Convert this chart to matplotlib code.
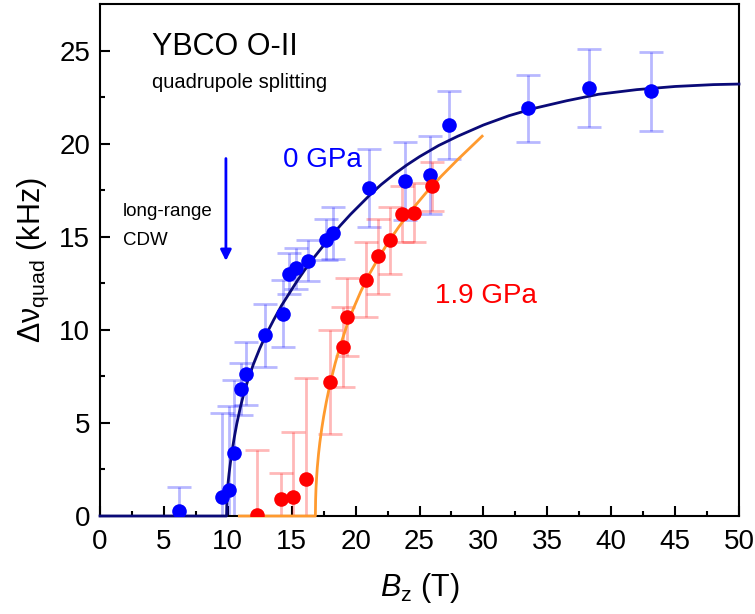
import matplotlib
matplotlib.use('Agg')
import matplotlib.pyplot as plt

plt.rcParams['font.family'] = ['Liberation Sans', 'DejaVu Sans']
plt.rcParams['mathtext.fontset'] = 'custom'
plt.rcParams['mathtext.rm'] = 'Liberation Sans'
plt.rcParams['mathtext.it'] = 'Liberation Sans:italic'

# 0 GPa data
b0_field = [6.2, 9.55, 10.1, 10.5, 11.0, 11.46, 12.9, 14.3, 14.75, 15.3, 16.3,
            17.7, 18.2, 21.05, 23.9, 25.8, 27.3, 33.5, 38.3, 43.1]
b0_split = [0.27, 1.04, 1.4, 3.4, 6.8, 7.65, 9.7, 10.87, 13.0, 13.3, 13.7,
            14.84, 15.2, 17.6, 18.0, 18.3, 21.0, 21.9, 23.0, 22.8]
b0_err = [1.3, 4.5, 4.5, 3.9, 1.4, 1.7, 1.7, 1.8, 1.1, 1.1, 1.1,
          1.1, 1.4, 2.1, 2.1, 2.1, 1.8, 1.8, 2.1, 2.1]

# 1.9 GPa data
p19_field = [12.3, 14.15, 15.1, 16.1, 18.0, 19.0, 19.35, 20.8, 21.75, 22.7, 23.6, 24.6, 26.0]
p19_split = [0.05, 0.91, 1.0, 2.0, 7.2, 9.1, 10.7, 12.7, 13.95, 14.8, 16.24, 16.3, 17.7]
p19_err = [3.5, 1.4, 3.5, 5.4, 2.8, 2.15, 2.1, 2.0, 2.0, 1.8, 1.5, 1.6, 1.3]

# fit curves
fit0_field = [0, 9.9, 9.93, 9.97, 10.0, 10.1, 10.2, 10.3, 10.5, 10.7, 11.0, 11.3, 11.6,
              12.0, 12.5, 13.0, 13.6, 14.2, 14.8, 15.4, 16.0, 16.7, 17.4, 18.0, 18.8,
              19.6, 20.4, 21.2, 22.0, 23.0, 24.0, 25.0, 26.5, 28.0, 30.0, 32.0, 34.0,
              36.5, 39.0, 42.0, 45.0, 48.0, 50]
fit0_split = [0, 0, 0.9, 1.35, 1.65, 2.3, 2.85, 3.35, 4.2, 4.95, 5.9, 6.7, 7.35,
              8.15, 9.0, 9.75, 10.55, 11.3, 11.95, 12.6, 13.2, 13.85, 14.45, 14.95, 15.6,
              16.2, 16.75, 17.3, 17.8, 18.35, 18.85, 19.3, 19.9, 20.4, 21.0, 21.5, 21.9,
              22.3, 22.65, 22.9, 23.07, 23.17, 23.2]
fit19_field = [10.9, 16.85, 16.87, 16.9, 16.95, 17.0, 17.1, 17.2, 17.35, 17.5, 17.7,
               18.0, 18.4, 18.8, 19.3, 19.8, 20.4, 21.0, 21.7, 22.5, 23.4, 24.4,
               25.5, 26.7, 28.0, 29.9]
fit19_split = [0, 0, 0.9, 1.5, 2.1, 2.6, 3.35, 3.95, 4.7, 5.35, 6.1,
               7.1, 8.2, 9.15, 10.2, 11.1, 12.05, 12.9, 13.75, 14.65, 15.55, 16.45,
               17.35, 18.25, 19.15, 20.4]

fig, ax = plt.subplots(figsize=(7.55, 6.14), dpi=100)
fig.subplots_adjust(left=0.1325, right=0.9788, top=0.9935, bottom=0.1596)

ax.errorbar(b0_field, b0_split, yerr=b0_err, fmt='none', ecolor='#0000ff', alpha=0.28,
            elinewidth=2, capsize=8.5, capthick=2, zorder=2)
ax.errorbar(p19_field, p19_split, yerr=p19_err, fmt='none', ecolor='#ff0000', alpha=0.28,
            elinewidth=2, capsize=8.5, capthick=2, zorder=2)

ax.plot(fit0_field, fit0_split, color='#0a0a78', lw=2, zorder=3, clip_on=False)
ax.plot(fit19_field, fit19_split, color='#ff9a2e', lw=2, zorder=3, clip_on=False)

ax.plot(b0_field, b0_split, 'o', color='#0000ff', ms=10.5, mec='none', zorder=4)
ax.plot(p19_field, p19_split, 'o', color='#ff0000', ms=10.5, mec='none', zorder=4)

ax.set_xticks(range(0, 51, 5))
ax.set_xticks([2.5 + 5 * i for i in range(10)], minor=True)
ax.set_yticks(range(0, 26, 5))
ax.set_yticks([2.5 + 5 * i for i in range(5)], minor=True)
ax.set_xlim(0, 50)
ax.set_ylim(0, 27.5)
ax.tick_params(which='both', direction='in', width=1.5, top=False, right=False)
ax.tick_params(which='major', length=7)
ax.tick_params(which='minor', length=3.5)
ax.tick_params(axis='x', labelsize=20, pad=9)
ax.tick_params(axis='y', labelsize=20, pad=7)
for s in ax.spines.values():
    s.set_linewidth(1.5)

ax.set_xlabel('$B_{\\rm z}$ (T)', fontsize=22, labelpad=12)
ax.set_ylabel('Δν$_{\\rm quad}$ (kHz)', fontsize=22, labelpad=6)

ax.text(4.06, 25.2, 'YBCO O-II', fontsize=22, va='center')
ax.text(4.06, 23.3, 'quadrupole splitting', fontsize=14.5, va='center')
ax.text(14.3, 19.1, '0 GPa', fontsize=20, color='#0000ff', va='center')
ax.text(26.2, 11.8, '1.9 GPa', fontsize=20, color='#ff0000', va='center')
ax.text(1.8, 16.35, 'long-range', fontsize=13.5, va='center')
ax.text(1.8, 14.8, 'CDW', fontsize=13.5, va='center')
ax.annotate('', xy=(9.85, 13.7), xytext=(9.85, 19.2),
            arrowprops=dict(arrowstyle='-|>', color='#0000ff', lw=2,
                            mutation_scale=16, shrinkA=0, shrinkB=0))

fig.savefig('out.png', dpi=100)
